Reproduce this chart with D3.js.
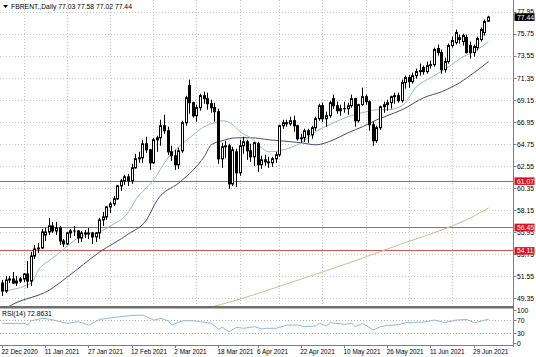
<!DOCTYPE html>
<html><head><meta charset="utf-8">
<script src="https://cdn.jsdelivr.net/npm/d3@7"></script>
<style>
html,body{margin:0;padding:0;background:#fff;}
svg{display:block;font-family:"Liberation Sans","DejaVu Sans",Arial,sans-serif;}
</style></head><body>
<svg id="c" width="536" height="357"></svg>
<script>
// ---------- DATA ----------
const symbolTitle = "FBRENT.,Daily";
const lastQuote = [77.03, 77.58, 77.02, 77.44];
const dates = ["2020-12-22","2020-12-23","2020-12-24","2020-12-28","2020-12-29","2020-12-30","2020-12-31",
"2021-01-04","2021-01-05","2021-01-06","2021-01-07","2021-01-08","2021-01-11","2021-01-12","2021-01-13","2021-01-14","2021-01-15",
"2021-01-18","2021-01-19","2021-01-20","2021-01-21","2021-01-22","2021-01-25","2021-01-26","2021-01-27","2021-01-28","2021-01-29",
"2021-02-01","2021-02-02","2021-02-03","2021-02-04","2021-02-05","2021-02-08","2021-02-09","2021-02-10","2021-02-11","2021-02-12",
"2021-02-15","2021-02-16","2021-02-17","2021-02-18","2021-02-19","2021-02-22","2021-02-23","2021-02-24","2021-02-25","2021-02-26",
"2021-03-01","2021-03-02","2021-03-03","2021-03-04","2021-03-05","2021-03-08","2021-03-09","2021-03-10","2021-03-11","2021-03-12",
"2021-03-15","2021-03-16","2021-03-17","2021-03-18","2021-03-19","2021-03-22","2021-03-23","2021-03-24","2021-03-25","2021-03-26",
"2021-03-29","2021-03-30","2021-03-31","2021-04-01","2021-04-06","2021-04-07","2021-04-08","2021-04-09","2021-04-12","2021-04-13",
"2021-04-14","2021-04-15","2021-04-16","2021-04-19","2021-04-20","2021-04-21","2021-04-22","2021-04-23","2021-04-26","2021-04-27",
"2021-04-28","2021-04-29","2021-04-30","2021-05-03","2021-05-04","2021-05-05","2021-05-06","2021-05-07","2021-05-10","2021-05-11",
"2021-05-12","2021-05-13","2021-05-14","2021-05-17","2021-05-18","2021-05-19","2021-05-20","2021-05-21","2021-05-24","2021-05-25",
"2021-05-26","2021-05-27","2021-05-28","2021-05-31","2021-06-01","2021-06-02","2021-06-03","2021-06-04","2021-06-07","2021-06-08",
"2021-06-09","2021-06-10","2021-06-11","2021-06-14","2021-06-15","2021-06-16","2021-06-17","2021-06-18","2021-06-21","2021-06-22",
"2021-06-23","2021-06-24","2021-06-25","2021-06-28","2021-06-29","2021-06-30","2021-07-01","2021-07-02","2021-07-05"];
const opens = [50.9,50.1,51.2,51.3,50.9,51.1,51.3,51.8,51.1,53.6,54.3,54.4,55.7,56.0,56.6,56.1,56.4,55.1,54.8,55.9,56.1,56.1,55.4,55.9,55.8,55.9,55.5,
55.9,57.2,57.5,58.5,58.8,59.3,60.6,61.1,61.5,61.1,62.4,63.3,63.4,64.8,64.2,62.9,65.2,65.4,66.6,66.1,
64.0,63.6,62.7,64.1,66.9,70.6,68.9,67.6,68.4,69.6,69.3,68.8,68.4,68.0,63.3,64.5,64.6,60.8,64.0,61.9,
64.6,65.0,64.1,63.5,64.8,62.7,63.2,63.0,62.9,63.3,63.7,66.6,66.9,66.8,67.1,66.6,65.3,65.4,66.1,65.7,
66.4,67.3,68.6,67.3,67.6,69.3,68.6,68.1,68.3,68.3,68.6,69.3,67.1,68.7,69.5,69.0,66.7,65.1,66.4,68.5,
68.7,68.9,69.5,69.6,69.1,70.9,71.4,71.0,71.6,72.0,72.4,72.0,72.6,72.7,74.3,73.9,72.2,73.0,74.6,74.9,
75.4,75.0,75.4,74.6,73.9,74.4,75.2,75.9,77.03];
const highs = [51.2,51.6,51.6,52.0,51.6,51.5,51.9,53.1,54.0,54.7,54.9,56.3,56.4,57.4,57.0,57.0,56.6,55.3,56.0,56.3,56.6,56.2,56.1,56.2,56.4,56.0,56.0,
57.4,58.0,58.6,59.0,59.6,60.7,61.3,61.7,61.8,62.8,63.8,64.0,65.2,65.5,64.3,65.4,65.6,67.2,67.7,66.5,
64.6,64.2,64.4,67.1,69.6,71.2,69.0,68.7,69.8,70.0,69.9,69.2,68.9,68.3,64.9,65.1,64.8,64.5,64.3,65.2,
65.5,65.2,64.8,65.0,65.0,63.6,63.7,63.5,63.5,64.0,66.7,67.2,67.2,67.5,67.6,66.7,65.8,66.3,66.3,66.6,
67.5,68.8,68.9,68.0,69.1,69.7,69.0,68.7,69.0,68.9,69.7,69.4,68.8,70.4,69.7,69.1,67.0,66.6,68.6,69.0,
69.2,69.6,69.9,69.9,71.2,71.6,71.7,71.9,72.3,72.8,72.6,73.0,73.1,74.4,74.7,74.2,73.4,74.8,75.5,76.2,
75.7,75.8,75.7,75.0,74.7,75.5,76.4,77.2,77.58];
const lows = [49.6,49.9,50.9,50.8,50.6,50.9,51.0,50.4,50.6,53.3,53.9,54.3,55.1,55.7,55.9,55.7,54.7,54.5,54.7,55.4,55.6,54.9,55.0,55.4,55.3,54.8,55.0,
55.3,56.6,57.2,57.9,58.6,59.2,60.1,60.7,60.6,60.8,62.3,62.9,62.9,63.9,62.2,62.8,64.0,64.6,65.8,63.7,
63.1,62.2,62.3,63.9,66.6,67.8,67.4,67.0,68.1,68.8,68.2,67.9,67.0,62.8,62.4,63.4,60.3,60.6,60.5,61.6,
63.8,63.2,63.0,62.6,62.0,62.3,62.6,62.4,62.5,62.9,63.5,66.3,66.5,66.6,66.0,65.1,64.9,65.0,64.9,65.3,
66.1,67.1,67.0,66.5,67.4,68.3,67.8,67.6,67.9,67.7,68.4,66.5,66.9,68.6,68.7,66.1,64.6,64.9,66.2,67.9,
68.1,68.3,68.8,68.9,68.9,70.3,70.4,70.8,71.3,71.6,71.7,71.8,72.3,72.5,73.6,71.8,71.9,72.8,74.4,74.7,
74.8,74.6,73.8,73.3,73.5,74.1,75.0,75.6,77.02];
const closes = [50.1,51.2,51.3,50.9,51.1,51.3,51.8,51.1,53.6,54.3,54.4,56.0,56.0,56.6,56.1,56.4,55.1,54.8,55.9,56.1,56.1,55.4,55.9,55.8,55.9,55.5,55.9,
57.2,57.5,58.5,58.8,59.3,60.6,61.1,61.5,61.1,62.4,63.3,63.4,64.8,64.2,62.9,65.2,65.4,66.6,66.1,64.0,
63.6,62.7,64.1,66.9,69.4,68.9,67.6,68.4,69.6,69.3,68.8,68.4,68.0,63.3,64.5,64.6,60.8,64.2,61.9,64.6,
65.0,64.1,63.5,64.9,62.7,63.2,63.0,62.9,63.3,63.7,66.6,66.9,66.8,67.1,66.6,65.3,65.4,66.1,65.7,66.4,
67.3,68.6,67.3,67.6,68.9,68.6,68.1,68.3,68.3,68.6,69.3,67.1,68.7,69.5,69.0,66.7,65.1,66.4,68.5,68.7,
68.9,69.5,69.6,69.1,70.9,71.4,71.0,71.6,72.0,72.1,72.0,72.6,72.7,74.2,73.9,72.2,73.0,74.6,75.1,75.9,
75.2,75.6,73.9,73.9,74.5,75.3,76.2,77.0,77.44];

// moving averages (bar index, value)
const fastMaBars = [0,8,10,14,17,19,22,27,30,35,37,42,46,49,53,56,59,61,64,66,69,74,78,83,87,92,96,100,104,107,111,115,119,124,128,131,135];
const fastMaVals = [50.1,50.9,52.2,53.4,54.3,54.9,55.6,56.0,56.6,58.0,59.2,61.2,63.4,64.5,65.7,66.5,66.9,67.1,66.7,66.0,65.4,64.0,64.2,64.9,66.0,66.9,67.5,67.9,68.2,68.2,68.6,70.5,71.4,72.5,73.5,74.0,75.0];
const slowMaBars = [1,3,13,18,27,35,40,43,49,53,56,58,61,65,69,74,83,87,92,96,100,104,109,111,117,122,127,131,135];
const slowMaVals = [48.4,48.8,50.2,51.5,54.0,55.8,57.2,59.2,60.9,62.2,63.5,64.7,65.1,65.4,65.4,65.2,64.9,64.7,65.2,65.9,66.5,67.2,67.9,68.2,69.4,70.0,70.9,71.9,73.0];
const longMaBars = [56,65,83,97,110,122,130,135];
const longMaVals = [48.3,49.2,51.3,53.0,54.7,56.2,57.4,58.4];

// RSI(14)
const rsiBars = [0,6,7,8,11,13,15,18,21,24,27,31,36,39,42,44,46,47,50,53,55,58,60,61,63,65,67,70,72,73,76,79,82,84,87,88,90,91,95,97,98,100,103,105,107,110,112,117,120,123,126,129,131,132,134,135];
const rsiVals = [61,61,56,69,76,74,69,61,66,56,73,79,85,86,71,76,69,56,69,69,66,61,43,49,36,49,46,51,44,46,46,56,56,51,53,61,53,63,58,61,51,61,41,51,55,57,63,65,71,63,71,73,63,65,71,72.86];
const rsiLabel = "RSI(14) 72.8631";

const priceTicks = [77.95,75.75,73.55,71.35,69.15,66.95,64.75,62.55,60.35,58.15,55.95,53.75,51.55,49.35];
const levels = [61.07, 56.45, 54.11];
const rsiTicks = [100, 70, 30, 0];
const rsiLevels = [70, 30];
const tickDates = ["2020-12-22","2021-01-11","2021-01-27","2021-02-12","2021-03-02","2021-03-18","2021-04-06","2021-04-22","2021-05-10","2021-05-26","2021-06-11","2021-06-29"];

// ---------- LAYOUT ----------
const plotRight = 513.5;
const mainTop = 0, mainBottom = 306;
const rsiTop = 309, rsiBottom = 345;
const svg = d3.select("#c");

const x = d3.scaleLinear().domain([0, 135]).range([2.5, 2.5 + 135*3.6]);
const y = d3.scaleLinear().domain([48.61, 79.15]).range([mainBottom, mainTop]);
const yr = d3.scaleLinear().domain([0, 100]).range([343.5, 310.5]);
const parse = d3.timeParse("%Y-%m-%d");
const fmt = d3.timeFormat("%-d %b %Y");
const px = v => Math.floor(v) + 0.5;

const defs = svg.append("defs");
defs.append("clipPath").attr("id","mainClip").append("rect")
  .attr("x",0).attr("y",mainTop).attr("width",plotRight).attr("height",mainBottom-mainTop);
defs.append("clipPath").attr("id","rsiClip").append("rect")
  .attr("x",0).attr("y",rsiTop).attr("width",plotRight).attr("height",rsiBottom-rsiTop);

// grid
const tickIdx = tickDates.map(d => dates.indexOf(d));
const gridIdx = tickIdx.map(i => i + 6).filter(i => i < dates.length);
const grid = svg.append("g").attr("stroke","#c8c8c8").attr("stroke-width",1).attr("stroke-dasharray","1,2");
grid.selectAll(".hg").data(priceTicks).join("line")
  .attr("x1",0).attr("x2",plotRight).attr("y1",d=>px(y(d))).attr("y2",d=>px(y(d)));
grid.selectAll(".vg").data(gridIdx).join("line")
  .attr("x1",i=>px(x(i))).attr("x2",i=>px(x(i))).attr("y1",mainTop).attr("y2",mainBottom);

// level lines
svg.append("g").selectAll("line").data(levels).join("line")
  .attr("x1",0).attr("x2",plotRight).attr("y1",d=>px(y(d))).attr("y2",d=>px(y(d)))
  .attr("stroke","#cc5555").attr("stroke-width",1);

// MAs
const main = svg.append("g").attr("clip-path","url(#mainClip)");
const line = d3.line().x(d=>x(d[0])).y(d=>y(d[1])).curve(d3.curveMonotoneX);
main.append("path").attr("d", line(d3.zip(longMaBars,longMaVals))).attr("fill","none").attr("stroke","#d6b98f").attr("stroke-width",1);
main.append("path").attr("d", line(d3.zip(slowMaBars,slowMaVals))).attr("fill","none").attr("stroke","#4a4a78").attr("stroke-width",1);
main.append("path").attr("d", line(d3.zip(fastMaBars,fastMaVals))).attr("fill","none").attr("stroke","#93bdb6").attr("stroke-width",1);

// candles
const idx = d3.range(dates.length);
main.selectAll(".wick").data(idx).join("line")
  .attr("x1",i=>px(x(i))).attr("x2",i=>px(x(i)))
  .attr("y1",i=>y(highs[i])).attr("y2",i=>y(lows[i]))
  .attr("stroke","#000").attr("stroke-width",1);
main.selectAll(".body").data(idx).join("rect")
  .attr("x",i=>px(x(i))-1).attr("width",2)
  .attr("y",i=>y(Math.max(opens[i],closes[i])))
  .attr("height",i=>Math.max(0.01, y(Math.min(opens[i],closes[i])) - y(Math.max(opens[i],closes[i]))))
  .attr("fill",i=>closes[i] >= opens[i] ? "#fff" : "#000")
  .attr("stroke","#000").attr("stroke-width",1);

// panel frames
svg.append("line").attr("x1",plotRight).attr("x2",plotRight).attr("y1",0).attr("y2",347).attr("stroke","#808080").attr("stroke-width",1);
svg.append("rect").attr("x",0).attr("y",mainBottom).attr("width",plotRight).attr("height",2.5).attr("fill","#6e6e6e");
svg.append("line").attr("x1",0).attr("x2",plotRight).attr("y1",rsiBottom+0.5).attr("y2",rsiBottom+0.5).attr("stroke","#808080").attr("stroke-width",1);

// price axis
const pa = svg.append("g").attr("font-size",6.8).attr("fill","#000");
pa.selectAll("line").data(priceTicks).join("line")
  .attr("x1",plotRight).attr("x2",plotRight+3).attr("y1",d=>px(y(d))).attr("y2",d=>px(y(d))).attr("stroke","#808080");
pa.selectAll("text").data(priceTicks).join("text")
  .attr("x",517).attr("y",d=>y(d)).attr("dy","0.35em").text(d=>d.toFixed(2));

// level labels
const ll = svg.append("g").attr("font-size",6.8);
ll.selectAll("rect").data(levels).join("rect")
  .attr("x",plotRight+1).attr("y",d=>y(d)-3.8).attr("width",20).attr("height",7.6).attr("fill","#e0141e");
ll.selectAll("text").data(levels).join("text")
  .attr("x",517).attr("y",d=>y(d)).attr("dy","0.35em").attr("fill","#fff").text(d=>d.toFixed(2));

// current price label
svg.append("rect").attr("x",plotRight+1).attr("y",y(lastQuote[3])-3.8).attr("width",20).attr("height",7.6).attr("fill","#000");
svg.append("text").attr("x",517).attr("y",y(lastQuote[3])).attr("dy","0.35em").attr("font-size",6.8).attr("fill","#fff").text(lastQuote[3].toFixed(2));

// title
svg.append("path").attr("d","M3,5 L8,5 L5.5,8 Z").attr("fill","#000");
svg.append("text").attr("x",11).attr("y",8.5).attr("font-size",6.8).attr("fill","#000")
  .text(symbolTitle + "  " + lastQuote.map(v=>v.toFixed(2)).join(" "));

// RSI
const rsiG = svg.append("g");
rsiG.selectAll("line").data(rsiLevels).join("line")
  .attr("x1",0).attr("x2",plotRight).attr("y1",d=>px(yr(d))).attr("y2",d=>px(yr(d)))
  .attr("stroke","#b4b4b4").attr("stroke-dasharray","1,2");
const rline = d3.line().x(d=>x(d[0])).y(d=>yr(d[1]));
rsiG.append("path").attr("clip-path","url(#rsiClip)").attr("d", rline(d3.zip(rsiBars,rsiVals)))
  .attr("fill","none").attr("stroke","#8fb8d8").attr("stroke-width",1);
svg.append("text").attr("x",2).attr("y",316).attr("font-size",6.8).attr("fill","#000").text(rsiLabel);
const ra = svg.append("g").attr("font-size",6.8);
ra.selectAll("line").data(rsiTicks).join("line")
  .attr("x1",plotRight).attr("x2",plotRight+3).attr("y1",d=>px(yr(d))).attr("y2",d=>px(yr(d))).attr("stroke","#808080");
ra.selectAll("text").data(rsiTicks).join("text")
  .attr("x",517).attr("y",d=>yr(d)).attr("dy","0.35em").text(d=>d);

// time axis
const ta = svg.append("g").attr("font-size",6.4).attr("fill","#000");
ta.selectAll("line").data(tickIdx).join("line")
  .attr("x1",i=>px(x(i))).attr("x2",i=>px(x(i))).attr("y1",rsiBottom+1).attr("y2",rsiBottom+3).attr("stroke","#808080");
ta.selectAll("text").data(tickIdx).join("text")
  .attr("x",i=>x(i)-1).attr("y",354).text(i=>fmt(parse(dates[i])));
</script>
</body></html>
